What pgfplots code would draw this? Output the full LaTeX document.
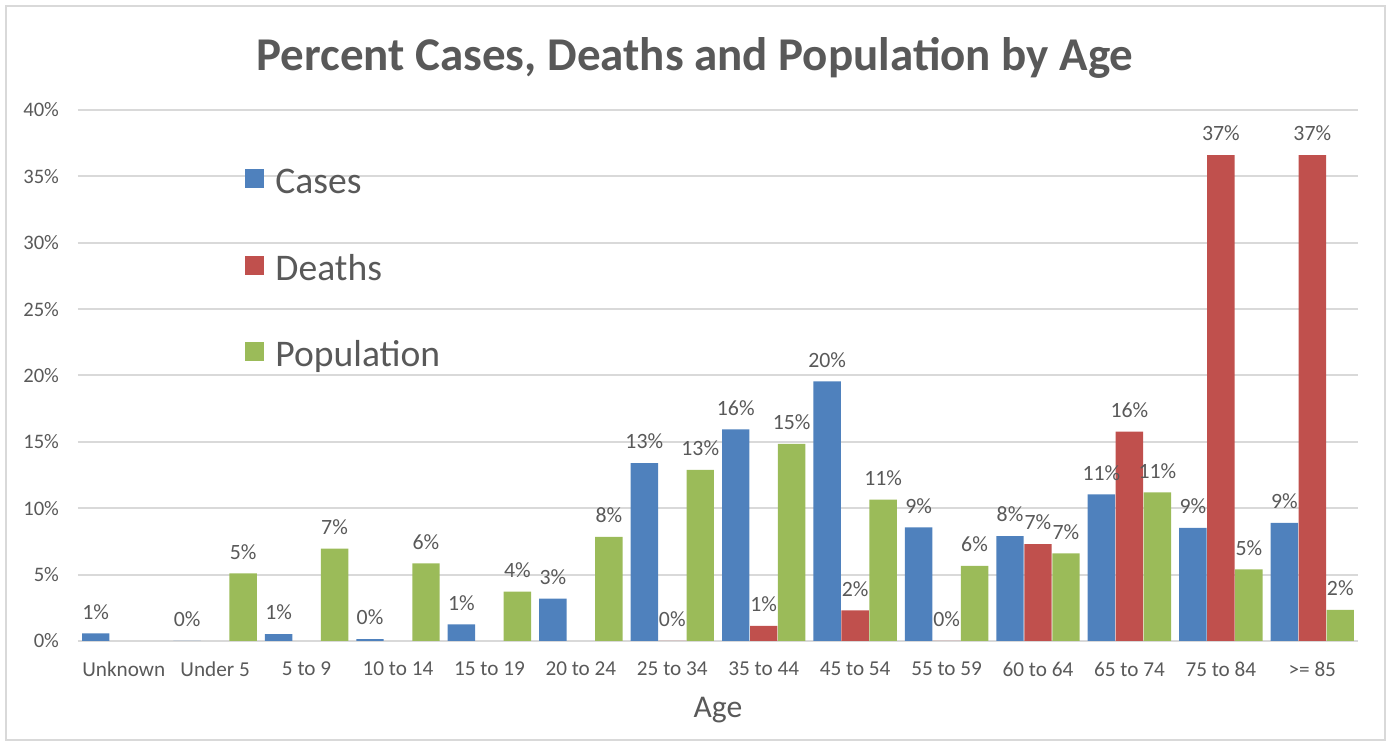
\documentclass[border=0pt]{standalone}
\usepackage{fontspec}
\setmainfont{Carlito}
\usepackage{pgfplots}
\pgfplotsset{compat=1.18}
\definecolor{cases}{HTML}{4F81BD}
\definecolor{deaths}{HTML}{C0504D}
\definecolor{popu}{HTML}{9BBB59}
\definecolor{textgray}{HTML}{595959}
\definecolor{gridgray}{HTML}{D9D9D9}

\begin{document}
\begin{tikzpicture}
\useasboundingbox (-39pt,-51.5pt) rectangle (655pt,320.5pt);
\draw[gridgray, line width=1pt] (-36pt,-49.5pt) rectangle (653.5pt,317.5pt);
\begin{axis}[
    scale only axis,
    width=640pt, height=265.5pt,
    xmin=-0.5, xmax=13.5,
    ymin=0, ymax=40,
    ybar, bar width=0.3,
    axis line style={draw=none},
    major tick length=0pt,
    ymajorgrids,
    grid style={draw=gridgray, line width=1pt},
    ytick={0,5,...,40},
    yticklabel={\pgfmathprintnumber{\tick}\%},
    /pgf/number format/assume math mode=true,
    xtick={0,...,13},
    xticklabels={Unknown, Under 5, 5 to 9, 10 to 14, 15 to 19, 20 to 24, 25 to 34, 35 to 44, 45 to 54, 55 to 59, 60 to 64, 65 to 74, 75 to 84, >= 85},
    yticklabel style={font=\fontsize{10.3pt}{12pt}\selectfont, text=textgray, xshift=-6pt},
    xticklabel style={font=\fontsize{10.6pt}{12pt}\selectfont, text=textgray, yshift=-7pt},
    xlabel={Age},
    xlabel style={at={(axis description cs:0.5,-0.130)}, anchor=center,
        font=\fontsize{15.8pt}{18pt}\selectfont, text=textgray},
    title={Percent Cases, Deaths and Population by Age},
    title style={at={(axis description cs:0.482,1.076)}, anchor=center,
        font=\fontsize{23.5pt}{27pt}\selectfont\bfseries, text=textgray},
    nodes near coords={\pgfmathprintnumber[fixed,precision=0]{\pgfplotspointmeta}\%},
    every node near coord/.append style={font=\fontsize{10.9pt}{12pt}\selectfont,
        text=textgray, yshift=3.5pt},
    legend image code/.code={
        \fill[#1] (0pt,-1.8pt) rectangle (9.5pt,7.7pt);
        \path (14pt,3pt);
    },
    legend cell align=left,
    legend style={
        at={(axis description cs:0.1305,0.896)}, anchor=north west,
        draw=none, fill=none, inner sep=0pt,
        font=\fontsize{18.8pt}{22pt}\selectfont, text=textgray,
        row sep=24.3pt,
        nodes={inner sep=1pt, text height=13pt, text depth=4pt},
    },
]
% Cases
\addplot[fill=cases, draw=none, bar shift=-0.306] coordinates {
    (0,0.58) (1,0) (2,0.52) (3,0.15) (4,1.26) (5,3.19) (6,13.39)
    (7,15.95) (8,19.55) (9,8.56) (10,7.9) (11,11.05) (12,8.52) (13,8.9)
};
% Deaths
\addplot[fill=deaths, draw=none, bar shift=0] coordinates {
    (6,0) (7,1.13) (8,2.31) (9,0) (10,7.3) (11,15.77) (12,36.6) (13,36.6)
};
% Population
\addplot[fill=popu, draw=none, bar shift=0.306] coordinates {
    (1,5.1) (2,6.95) (3,5.85) (4,3.71) (5,7.84) (6,12.89)
    (7,14.84) (8,10.65) (9,5.65) (10,6.6) (11,11.2) (12,5.4) (13,2.34)
};
\legend{Cases, Deaths, Population}
\end{axis}
\end{tikzpicture}
\end{document}
